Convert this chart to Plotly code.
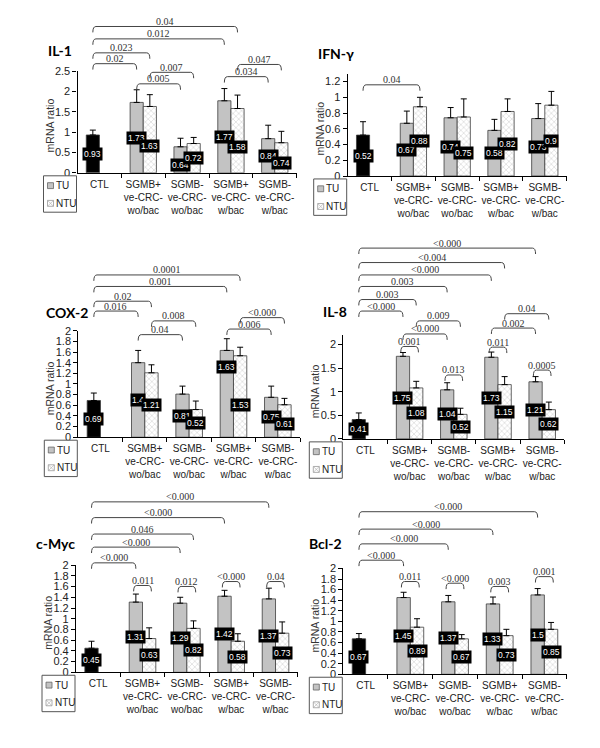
import plotly.graph_objects as go

# page body has an 8px margin: figure is drawn 8px in from the window corner
PAD = 8
W, H = 584, 732

# ---------------- data ----------------
categories = ["CTL",
              "SGMB+<br>ve-CRC-<br>wo/bac",
              "SGMB-<br>ve-CRC-<br>wo/bac",
              "SGMB+<br>ve-CRC-<br>w/bac",
              "SGMB-<br>ve-CRC-<br>w/bac"]
genes = ["IL-1", "IFN-γ", "COX-2", "IL-8", "c-Myc", "Bcl-2"]
series_names = ["TU", "NTU"]

tu_il1 = [0.93, 1.73, 0.64, 1.77, 0.84]
ntu_il1 = [None, 1.63, 0.72, 1.58, 0.74]
tu_err_il1 = [0.12, 0.31, 0.21, 0.30, 0.33]
ntu_err_il1 = [0, 0.29, 0.15, 0.33, 0.28]

tu_ifng = [0.52, 0.67, 0.74, 0.58, 0.73]
ntu_ifng = [None, 0.88, 0.75, 0.82, 0.9]
tu_err_ifng = [0.17, 0.155, 0.13, 0.14, 0.19]
ntu_err_ifng = [0, 0.12, 0.23, 0.16, 0.175]

tu_cox2 = [0.69, 1.4, 0.81, 1.63, 0.75]
ntu_cox2 = [None, 1.21, 0.52, 1.53, 0.61]
tu_err_cox2 = [0.14, 0.23, 0.15, 0.22, 0.21]
ntu_err_cox2 = [0, 0.15, 0.16, 0.16, 0.12]

tu_il8 = [0.41, 1.75, 1.04, 1.73, 1.21]
ntu_il8 = [None, 1.08, 0.52, 1.15, 0.62]
tu_err_il8 = [0.14, 0.08, 0.15, 0.11, 0.11]
ntu_err_il8 = [0, 0.14, 0.13, 0.17, 0.16]

tu_cmyc = [0.45, 1.31, 1.29, 1.42, 1.37]
ntu_cmyc = [None, 0.63, 0.82, 0.58, 0.73]
tu_err_cmyc = [0.13, 0.15, 0.11, 0.11, 0.2]
ntu_err_cmyc = [0, 0.2, 0.14, 0.14, 0.21]

tu_bcl2 = [0.67, 1.45, 1.37, 1.33, 1.5]
ntu_bcl2 = [None, 0.89, 0.67, 0.73, 0.85]
tu_err_bcl2 = [0.1, 0.1, 0.12, 0.13, 0.12]
ntu_err_bcl2 = [0, 0.16, 0.08, 0.12, 0.13]

# significance comparisons: (from category, series, to category, series, p-value)
pvals_il1 = [(0, "TU", 3, "NTU", "0.04"), (0, "TU", 3, "TU", "0.012"),
             (0, "TU", 1, "NTU", "0.023"), (0, "TU", 1, "TU", "0.02"),
             (1, "NTU", 2, "NTU", "0.007"), (1, "TU", 2, "TU", "0.005"),
             (3, "NTU", 4, "NTU", "0.047"), (3, "TU", 4, "TU", "0.034")]
pvals_ifng = [(0, "TU", 1, "NTU", "0.04")]
pvals_cox2 = [(0, "TU", 3, "NTU", "0.0001"), (0, "TU", 3, "TU", "0.001"),
              (0, "TU", 1, "NTU", "0.02"), (0, "TU", 1, "TU", "0.016"),
              (1, "NTU", 2, "NTU", "0.008"), (1, "TU", 2, "TU", "0.04"),
              (3, "TU", 4, "TU", "0.006"), (3, "NTU", 4, "NTU", "<0.000")]
pvals_il8 = [(0, "TU", 4, "TU", "<0.000"), (0, "TU", 3, "NTU", "<0.004"),
             (0, "TU", 3, "TU", "<0.000"), (0, "TU", 2, "TU", "0.003"),
             (0, "TU", 1, "NTU", "0.003"), (0, "TU", 1, "TU", "<0.000"),
             (1, "NTU", 2, "NTU", "0.009"), (1, "TU", 2, "TU", "<0.000"),
             (1, "TU", 1, "NTU", "0.001"), (2, "TU", 2, "NTU", "0.013"),
             (3, "TU", 3, "NTU", "0.011"), (3, "TU", 4, "TU", "0.002"),
             (3, "NTU", 4, "NTU", "0.04"), (4, "TU", 4, "NTU", "0.0005")]
pvals_cmyc = [(0, "TU", 4, "TU", "<0.000"), (0, "TU", 3, "TU", "<0.000"),
              (0, "TU", 2, "NTU", "0.046"), (0, "TU", 2, "TU", "<0.000"),
              (0, "TU", 1, "TU", "<0.000"), (1, "TU", 1, "NTU", "0.011"),
              (2, "TU", 2, "NTU", "0.012"), (3, "TU", 3, "NTU", "<0.000"),
              (4, "TU", 4, "NTU", "0.04")]
pvals_bcl2 = [(0, "TU", 4, "TU", "<0.000"), (0, "TU", 3, "TU", "<0.000"),
              (0, "TU", 2, "TU", "<0.000"), (0, "TU", 1, "TU", "<0.000"),
              (1, "TU", 1, "NTU", "0.011"), (2, "TU", 2, "NTU", "<0.000"),
              (3, "TU", 3, "NTU", "0.003"), (4, "TU", 4, "NTU", "0.001")]

tu_all = [tu_il1, tu_ifng, tu_cox2, tu_il8, tu_cmyc, tu_bcl2]
ntu_all = [ntu_il1, ntu_ifng, ntu_cox2, ntu_il8, ntu_cmyc, ntu_bcl2]
tu_err_all = [tu_err_il1, tu_err_ifng, tu_err_cox2, tu_err_il8, tu_err_cmyc, tu_err_bcl2]
ntu_err_all = [ntu_err_il1, ntu_err_ifng, ntu_err_cox2, ntu_err_il8, ntu_err_cmyc, ntu_err_bcl2]
pvals_all = [pvals_il1, pvals_ifng, pvals_cox2, pvals_il8, pvals_cmyc, pvals_bcl2]

# ---------------- layout / style (window pixels) ----------------
panels = [
    dict(x0=77.5, x1=296.7, yb=169.5, yt=66.0, ymax=2.5, dtick=0.5),
    dict(x0=347.7, x1=566.7, yb=172.7, yt=68.7, ymax=1.3, dtick=0.2),
    dict(x0=78.3, x1=300.0, yb=438.3, yt=330.0, ymax=2.0, dtick=0.2),
    dict(x0=343.3, x1=564.3, yb=440.0, yt=334.4, ymax=2.2, dtick=0.5),
    dict(x0=76.0, x1=297.7, yb=677.3, yt=568.3, ymax=2.0, dtick=0.2),
    dict(x0=343.3, x1=566.7, yb=679.3, yt=571.7, ymax=2.0, dtick=0.2),
]
title_pos = [(47, 45), (317, 48), (45, 311), (322, 310), (35, 546), (308, 546)]
bracket_y = [
    [20.7, 33.3, 47.5, 58.5, 67.3, 79.0, 59.3, 71.7],
    [80.0],
    [273.3, 285.0, 300.0, 310.0, 320.0, 334.0, 328.3, 316.7],
    [246.0, 260.7, 273.3, 285.0, 298.3, 310.0, 320.0, 333.3, 346.0, 375.0, 346.7, 327.3, 312.7, 370.0],
    [504.0, 520.0, 536.7, 550.0, 566.0, 589.0, 590.0, 585.0, 585.0],
    [514.0, 531.7, 546.7, 563.3, 585.0, 586.7, 590.0, 580.0],
]
label_shift = {(0, 1, "NTU"): -6, (0, 2, "TU"): -5.5, (0, 3, "NTU"): -6, (0, 4, "NTU"): -5,
               (1, 2, "NTU"): -7, (2, 3, "TU"): 27, (2, 3, "NTU"): -8, (2, 4, "NTU"): -3}

SANS = "Liberation Sans, Arial, sans-serif"
SERIF = "Liberation Serif, Times New Roman, serif"
TU_COLOR = "#c3c3c3"
EDGE = "#3c3c3c"

def px_x(p):
    return (p - PAD) / W

def px_y(p):
    return 1 - (p - PAD) / H

fig = go.Figure()
shapes = []
annotations = []
half = 0.15
xs = list(range(len(categories)))

for k in range(6):
    P = panels[k]
    ax = "" if k == 0 else str(k + 1)
    xref, yref = "x" + ax, "y" + ax
    tu, ntu = tu_all[k], ntu_all[k]
    tu_colors = ["black"] + [TU_COLOR] * (len(categories) - 1)
    fig.add_trace(go.Bar(
        x=xs, y=tu, name="TU", xaxis=xref, yaxis=yref, showlegend=False,
        marker=dict(color=tu_colors, line=dict(color=EDGE, width=0.8)),
        error_y=dict(type="data", symmetric=False, array=tu_err_all[k],
                     arrayminus=[0] * len(tu), color="black", thickness=1, width=3)))
    fig.add_trace(go.Bar(
        x=xs, y=ntu, name="NTU", xaxis=xref, yaxis=yref, showlegend=False,
        marker=dict(color="white", line=dict(color=EDGE, width=0.8),
                    pattern=dict(shape="x", size=4, solidity=0.25, fgcolor="#9a9a9a",
                                 bgcolor="white")),
        error_y=dict(type="data", symmetric=False, array=ntu_err_all[k],
                     arrayminus=[0] * len(ntu), color="black", thickness=1, width=3)))

    plot_h = P["yb"] - P["yt"]
    fig.update_layout(**{
        "xaxis" + ax: dict(domain=[px_x(P["x0"]), px_x(P["x1"])], anchor=yref,
                           range=[-0.5, len(categories) - 0.5], tickmode="array",
                           tickvals=xs, ticktext=categories, ticks="",
                           showline=True, linecolor="black", linewidth=1.2,
                           showgrid=False, zeroline=False, ticklabelstandoff=2,
                           tickfont=dict(family=SANS, size=10, color="#222"),
                           minor=dict(tickmode="array",
                                      tickvals=[i + 0.5 for i in xs],
                                      ticks="outside", ticklen=4, tickwidth=1,
                                      tickcolor="black", showgrid=False)),
        "yaxis" + ax: dict(domain=[px_y(P["yb"]), px_y(P["yt"])], anchor=xref,
                           range=[0, P["ymax"]], dtick=P["dtick"], tick0=0,
                           ticks="outside", ticklen=4, tickwidth=1, tickcolor="black",
                           showline=True, linecolor="black", linewidth=1.2,
                           showgrid=False, zeroline=False,
                           tickfont=dict(family=SANS, size=11, color="#222")),
    })

    for s, vals in (("TU", tu), ("NTU", ntu)):
        off = -half if s == "TU" else half
        for i, v in enumerate(vals):
            if v is None:
                continue
            annotations.append(dict(
                x=i + off, y=v / 2, xref=xref, yref=yref, text=str(v),
                showarrow=False, font=dict(family=SANS, size=8.5, color="white"),
                bgcolor="black", borderpad=1, xanchor="center", yanchor="middle",
                yshift=label_shift.get((k, i, s), 0)))

    dy_end = 6 / plot_h
    r = 0.07
    for (ca, sa, cb, sb, lab), ypx in zip(pvals_all[k], bracket_y[k]):
        xa = ca + (-half if sa == "TU" else half)
        xb = cb + (-half if sb == "TU" else half)
        if ca == cb:
            xa -= 0.05
            xb += 0.05
        f = (P["yb"] - ypx) / plot_h
        path = (f"M {xa},{f - dy_end} Q {xa},{f} {xa + r},{f} "
                f"L {xb - r},{f} Q {xb},{f} {xb},{f - dy_end}")
        shapes.append(dict(type="path", path=path, xref=xref, yref=yref + " domain",
                           line=dict(color="#444", width=1)))
        annotations.append(dict(x=(xa + xb) / 2, y=f, xref=xref, yref=yref + " domain",
                                text=lab, showarrow=False, xanchor="center",
                                yanchor="bottom", yshift=-1.5, borderpad=0,
                                font=dict(family=SERIF, size=10, color="#333")))

    tx, ty = title_pos[k]
    annotations.append(dict(x=px_x(tx), y=px_y(ty), xref="paper", yref="paper",
                            xanchor="left", yanchor="middle", showarrow=False,
                            text="<b>" + genes[k] + "</b>", borderpad=0,
                            font=dict(family="Lato, Open Sans, sans-serif", size=14,
                                      color="black")))
    annotations.append(dict(x=px_x(P["x0"] - 28), y=px_y((P["yb"] + P["yt"]) / 2 + 4),
                            xref="paper", yref="paper", textangle=-90, showarrow=False,
                            xanchor="center", yanchor="middle", text="mRNA ratio",
                            font=dict(family=SANS, size=10.5, color="#333")))
    lx1 = P["x0"] - 1
    lx0 = lx1 - 33
    ly0 = P["yb"] + 3
    ly1 = ly0 + 37
    shapes.append(dict(type="rect", xref="paper", yref="paper",
                       x0=px_x(lx0), x1=px_x(lx1), y0=px_y(ly0), y1=px_y(ly1),
                       line=dict(color="#555", width=1), fillcolor="white"))
    for j, s in enumerate(series_names):
        cy = ly0 + 10 + j * 18
        shapes.append(dict(type="rect", xref="paper", yref="paper",
                           x0=px_x(lx0 + 4), x1=px_x(lx0 + 10),
                           y0=px_y(cy + 3), y1=px_y(cy - 3),
                           line=dict(color="#666" if s == "TU" else "#999", width=0.8),
                           fillcolor=TU_COLOR if s == "TU" else "white"))
        if s == "NTU":
            shapes.append(dict(type="path", xref="paper", yref="paper",
                               path=(f"M {px_x(lx0 + 4)},{px_y(cy + 3)} L {px_x(lx0 + 10)},{px_y(cy - 3)} "
                                     f"M {px_x(lx0 + 4)},{px_y(cy - 3)} L {px_x(lx0 + 10)},{px_y(cy + 3)}"),
                               line=dict(color="#aaa", width=0.6)))
        annotations.append(dict(x=px_x(lx0 + 11.5), y=px_y(cy), xref="paper", yref="paper",
                                xanchor="left", yanchor="middle", showarrow=False, text=s,
                                borderpad=0,
                                font=dict(family=SANS, size=10, color="#222")))

fig.update_layout(width=W, height=H, margin=dict(l=0, r=0, t=0, b=0),
                  paper_bgcolor="white", plot_bgcolor="white",
                  barmode="group", bargap=0.4, bargroupgap=0,
                  shapes=shapes, annotations=annotations, showlegend=False)

fig.write_html("out.html")
